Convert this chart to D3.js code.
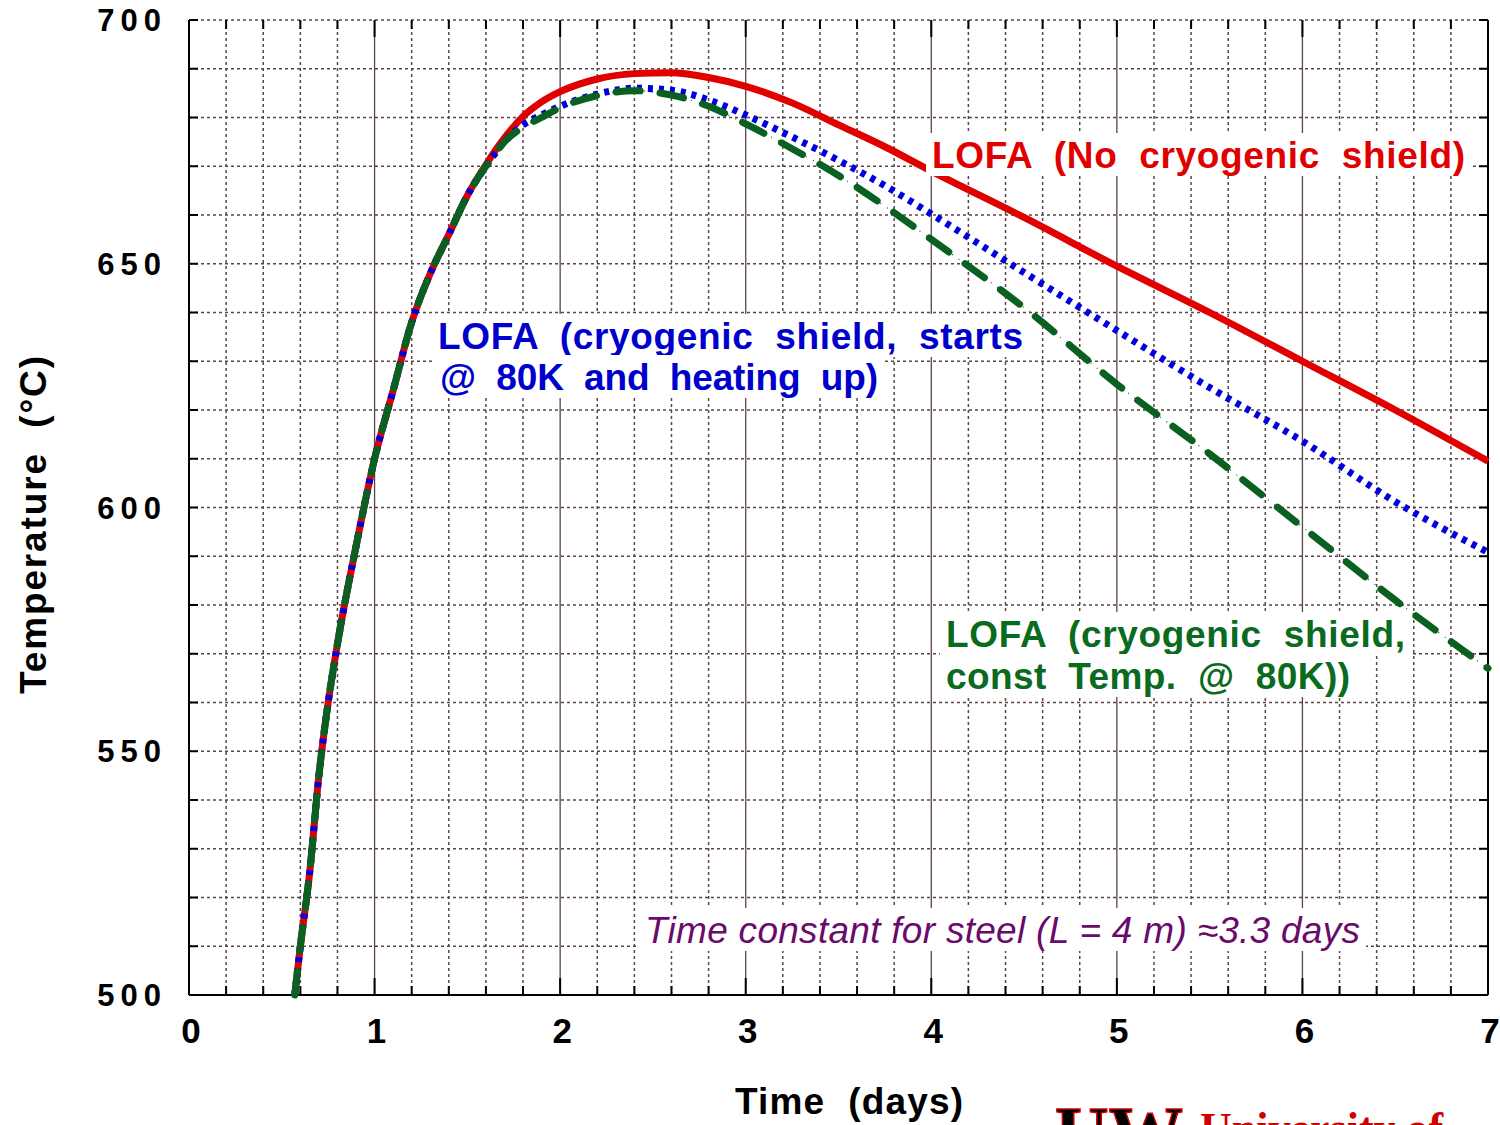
<!DOCTYPE html>
<html>
<head>
<meta charset="utf-8">
<script src="https://cdn.jsdelivr.net/npm/d3@7"></script>
<style>
  body { margin: 0; background: #fff; }
  text { font-family: "Liberation Sans", Arial, sans-serif; white-space: pre; }
</style>
</head>
<body>
<div id="chart"></div>
<script>
// time in days
var days = [0.57, 0.6, 0.65, 0.7, 0.75, 0.8, 0.9, 1.0, 1.1, 1.2, 1.3, 1.4, 1.5, 1.6, 1.7, 1.8, 1.9, 2.0,
            2.2, 2.4, 2.6, 2.8, 3.0, 3.25, 3.5, 3.75, 4.0, 4.5, 5.0, 5.5, 6.0, 6.5, 7.0];
// LOFA, no cryogenic shield
var noShield = [500, 510, 525, 545, 560, 572, 592, 610, 624, 638, 648, 656, 664, 670.3, 675.8, 680.2, 683.2, 685.3,
                687.9, 689, 689.2, 688.2, 686.4, 683, 678.5, 674, 669, 659.5, 649.5, 640, 630, 620, 609.5];
// LOFA, cryogenic shield starts at 80K and heats up
var shieldHeating = [500, 510, 525, 545, 560, 572, 592, 610, 624, 638, 648, 656, 664, 670, 675, 678.5, 680.5, 682.3,
                     684.8, 686, 685.6, 683.6, 680.5, 676, 671.2, 666, 660.2, 648.2, 636.3, 624.6, 613.6, 601.2, 590.8];
// LOFA, cryogenic shield constant at 80K
var shieldConst = [500, 510, 525, 545, 560, 572, 592, 610, 624, 638, 648, 656, 664, 670, 675, 678, 680, 682,
                   684.5, 685.5, 684.6, 682.3, 678.7, 673.6, 668.1, 661.8, 655, 641, 625.3, 611, 596, 581, 567];

var xTicks = [0, 1, 2, 3, 4, 5, 6, 7];
var yTicks = [500, 550, 600, 650, 700];

var W = 1500, H = 1125;
var x = d3.scaleLinear().domain([0, 7]).range([189, 1488]);
var y = d3.scaleLinear().domain([500, 700]).range([995, 20]);

var svg = d3.select("#chart").append("svg")
  .attr("width", W).attr("height", H);

var gridColor = "#5c4545";
var xMinor = d3.range(0, 7.001, 0.2).map(function(v){ return +v.toFixed(1); });
var yMinor = d3.range(500, 701, 10);

var grid = svg.append("g");
// horizontal dotted grid
grid.selectAll(".hg").data(yMinor).enter().append("line")
  .attr("x1", x(0)).attr("x2", x(7))
  .attr("y1", function(d){ return y(d); }).attr("y2", function(d){ return y(d); })
  .attr("stroke", gridColor).attr("stroke-width", 1.6).attr("stroke-dasharray", "3,3");
// vertical grid: minor dotted, whole days solid
grid.selectAll(".vg").data(xMinor.filter(function(d){ return d > 0 && d < 7; })).enter().append("line")
  .attr("x1", function(d){ return x(d); }).attr("x2", function(d){ return x(d); })
  .attr("y1", y(700)).attr("y2", y(500))
  .attr("stroke", gridColor)
  .attr("stroke-width", function(d){ return Number.isInteger(d) ? 1.3 : 1.5; })
  .attr("stroke-dasharray", function(d){ return Number.isInteger(d) ? null : "3,3"; });

// frame
var axes = svg.append("g");
axes.append("line").attr("x1", x(0)).attr("x2", x(0)).attr("y1", y(700)).attr("y2", y(500))
  .attr("stroke", "#000").attr("stroke-width", 2);
axes.append("line").attr("x1", x(7)).attr("x2", x(7)).attr("y1", y(700)).attr("y2", y(500))
  .attr("stroke", "#000").attr("stroke-width", 2);
axes.append("line").attr("x1", x(0)).attr("x2", x(7)).attr("y1", y(500)).attr("y2", y(500))
  .attr("stroke", "#000").attr("stroke-width", 2);

// ticks on left and right
axes.selectAll(".ytl").data(yMinor).enter().append("line")
  .attr("x1", x(0)).attr("x2", x(0) + 9)
  .attr("y1", function(d){ return y(d); }).attr("y2", function(d){ return y(d); })
  .attr("stroke", "#000").attr("stroke-width", 2);
axes.selectAll(".ytr").data(yMinor).enter().append("line")
  .attr("x1", x(7)).attr("x2", x(7) - 9)
  .attr("y1", function(d){ return y(d); }).attr("y2", function(d){ return y(d); })
  .attr("stroke", "#000").attr("stroke-width", 2);
// ticks on bottom and top
axes.selectAll(".xtb").data(xMinor).enter().append("line")
  .attr("x1", function(d){ return x(d); }).attr("x2", function(d){ return x(d); })
  .attr("y1", y(500)).attr("y2", function(d){ return y(500) - (Number.isInteger(d) ? 17 : 9); })
  .attr("stroke", "#000").attr("stroke-width", 2);
axes.selectAll(".xtt").data(xMinor).enter().append("line")
  .attr("x1", function(d){ return x(d); }).attr("x2", function(d){ return x(d); })
  .attr("y1", y(700)).attr("y2", function(d){ return y(700) + (Number.isInteger(d) ? 17 : 9); })
  .attr("stroke", "#000").attr("stroke-width", 2);

// tick labels
axes.selectAll(".yl").data(yTicks).enter().append("text")
  .attr("x", 167).attr("y", function(d){ return y(d) + 11; })
  .attr("text-anchor", "end")
  .style("font-size", "31px").style("font-weight", "bold").style("letter-spacing", "6px")
  .text(function(d){ return d; });
axes.selectAll(".xl").data(xTicks).enter().append("text")
  .attr("x", function(d){ return x(d) + 2; }).attr("y", 1043)
  .attr("text-anchor", "middle")
  .style("font-size", "35px").style("font-weight", "bold")
  .text(function(d){ return d; });

// axis titles
svg.append("text").attr("x", 849).attr("y", 1114).attr("text-anchor", "middle")
  .attr("textLength", 228).attr("lengthAdjust", "spacing")
  .style("font-size", "37px").style("font-weight", "bold").text("Time  (days)");
svg.append("text").attr("transform", "translate(46,525) rotate(-90)").attr("text-anchor", "middle")
  .attr("textLength", 338).attr("lengthAdjust", "spacing")
  .style("font-size", "37px").style("font-weight", "bold").text("Temperature  (°C)");

// curves
var line = d3.line()
  .x(function(d){ return x(d[0]); })
  .y(function(d){ return y(d[1]); })
  .curve(d3.curveMonotoneX);
function pts(vals){ return days.map(function(d, i){ return [d, vals[i]]; }); }

var curves = svg.append("g");
curves.append("path").datum(pts(noShield)).attr("d", line)
  .attr("fill", "none").attr("stroke", "#e00000").attr("stroke-width", 7);
curves.append("path").datum(pts(shieldConst)).attr("d", line)
  .attr("fill", "none").attr("stroke", "#0a6020").attr("stroke-width", 1.2).attr("stroke-dasharray", "1,7");
curves.append("path").datum(pts(shieldHeating)).attr("d", line)
  .attr("fill", "none").attr("stroke", "#0000dd").attr("stroke-width", 7).attr("stroke-dasharray", "5,6");
curves.append("path").datum(pts(shieldConst)).attr("d", line)
  .attr("fill", "none").attr("stroke", "#0a6020").attr("stroke-width", 7)
  .attr("stroke-linecap", "round").attr("stroke-dasharray", "24,20");

// labels with white boxes
var labels = svg.append("g");
function label(txt, x0, y0, len, color, size, italic){
  var t = labels.append("text").attr("x", x0).attr("y", y0)
    .attr("textLength", len).attr("lengthAdjust", "spacing")
    .style("font-size", size + "px")
    .style("font-weight", italic ? "normal" : "bold")
    .style("font-style", italic ? "italic" : "normal")
    .attr("fill", color).text(txt);
  var b = t.node().getBBox();
  labels.insert("rect", function(){ return t.node(); })
    .attr("x", b.x - 6).attr("y", b.y - 2).attr("width", b.width + 12).attr("height", b.height + 2)
    .attr("fill", "#fff");
}
label("LOFA  (No  cryogenic  shield)", 932, 168, 533, "#e00000", 37, false);
label("LOFA  (cryogenic  shield,  starts", 438, 349, 585, "#0000cc", 37, false);
label("@  80K  and  heating  up)", 440, 390, 438, "#0000cc", 37, false);
label("LOFA  (cryogenic  shield,", 946, 647, 459, "#0a6a1e", 37, false);
label("const  Temp.  @  80K))", 946, 689, 404, "#0a6a1e", 37, false);
label("Time constant for steel (L = 4 m) \u22483.3 days", 645, 943, 715, "#6a0a6a", 37, true);

// logo, cut off at the bottom edge
svg.append("text").attr("x", 1055).attr("y", 1160).attr("textLength", 128).attr("lengthAdjust", "spacingAndGlyphs")
  .style("font-family", "Liberation Serif, serif").style("font-size", "78px").style("font-weight", "bold")
  .attr("fill", "#000").attr("stroke", "#d00000").attr("stroke-width", 1.5).text("UW");
svg.append("text").attr("x", 1200).attr("y", 1143)
  .style("font-family", "Liberation Serif, serif").style("font-size", "44px").style("font-weight", "bold")
  .attr("fill", "#d00000").text("University of");
</script>
</body>
</html>
